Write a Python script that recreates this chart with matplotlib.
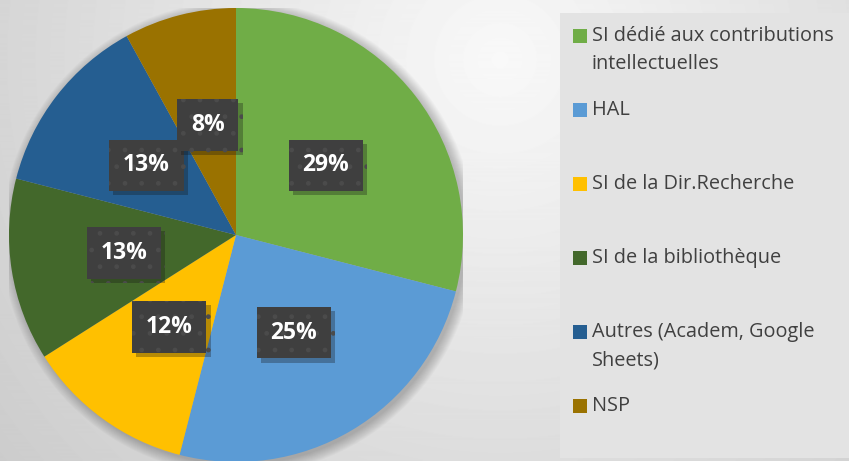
"""
Pie chart: systems used to declare intellectual contributions.
"""

import numpy as np
import matplotlib
matplotlib.use("Agg")
import matplotlib.pyplot as plt
from matplotlib.patches import Rectangle, Circle
from matplotlib import patheffects


labels = [
    "SI dédié aux contributions\nintellectuelles",
    "HAL",
    "SI de la Dir.Recherche",
    "SI de la bibliothèque",
    "Autres (Academ, Google\nSheets)",
    "NSP",
]
shares = [29, 25, 12, 13, 13, 8]
colors = ["#70AD47", "#5B9BD5", "#FFC000", "#43682B", "#255E91", "#9A7200"]

plt.rcParams["font.family"] = ["Open Sans", "DejaVu Sans"]
plt.rcParams["hatch.linewidth"] = 1.0

W, H = 849, 461
fig = plt.figure(figsize=(W / 100, H / 100), dpi=100)

# background: soft radial grey gradient
bg = fig.add_axes([0, 0, 1, 1])
yy, xx = np.mgrid[0:H, 0:W]
dist = np.sqrt((xx - 500) ** 2 + (yy - 60) ** 2) / 620
shade = np.clip(0.975 - 0.17 * dist, 0.80, 0.975)
bg.imshow(shade, cmap="gray", vmin=0, vmax=1, extent=[0, W, H, 0], aspect="auto")
bg.set_xlim(0, W)
bg.set_ylim(H, 0)
bg.axis("off")

# legend panel
bg.add_patch(Rectangle((560, 13), 289, 445, facecolor="#e3e3e3", edgecolor="none"))

# pie
ax = fig.add_axes([9 / W, (H - 462) / H, 454 / W, 454 / H])
# soft shadow under the pie
for k in range(12):
    ax.add_patch(Circle((0.012, -0.012), 1.0 + 0.004 * k, facecolor="black",
                        edgecolor="none", alpha=0.018, zorder=0))
wedges, texts, autotexts = ax.pie(
    shares,
    colors=colors,
    startangle=90,
    counterclock=False,
    autopct="%.0f%%",
    pctdistance=0.5,
    wedgeprops=dict(linewidth=0, zorder=1),
    textprops=dict(color="white", fontsize=16.5, fontweight="bold"),
)
for t in autotexts:
    t.set_bbox(dict(boxstyle="square,pad=0.6", facecolor="#3f3f3f",
                    edgecolor="#4b4b4b", linewidth=0, hatch="."))
    t.get_bbox_patch().set_path_effects([
        patheffects.SimplePatchShadow(offset=(3, -3), alpha=0.3),
        patheffects.Normal(),
    ])
    t.set_zorder(5)
ax.set_xlim(-1, 1)
ax.set_ylim(-1, 1)
ax.set_aspect("equal")

# legend, Excel style
y = 36
for lab, col in zip(labels, colors):
    bg.add_patch(Rectangle((573, y - 7), 14, 14, facecolor=col, edgecolor="none"))
    for k, line in enumerate(lab.split("\n")):
        bg.text(592, y + 28 * k, line, fontsize=14.3, color="#404040",
                va="center", ha="left")
    y += 74

fig.savefig("out.png", dpi=100)
